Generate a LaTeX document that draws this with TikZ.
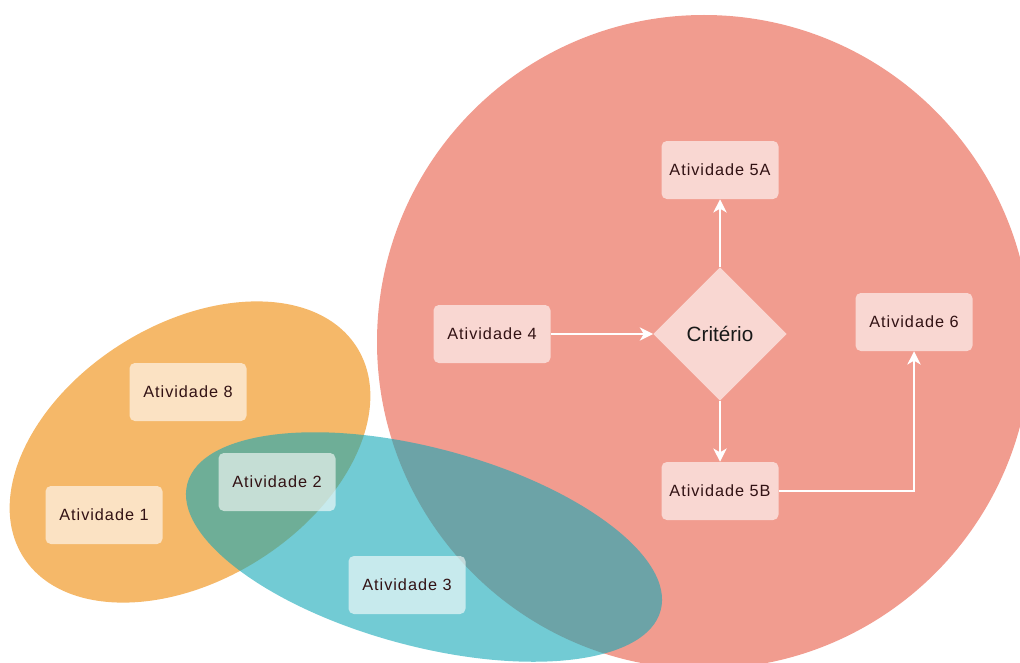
\documentclass[tikz,border=0pt]{standalone}
\usepackage{fontspec}
\setmainfont[LetterSpace=6]{Liberation Sans}
\newfontfamily\critfont{Liberation Sans}
\usetikzlibrary{arrows.meta,shapes.geometric}
\definecolor{redbg}{RGB}{241,156,143}
\definecolor{orangebg}{RGB}{245,184,105}
\definecolor{tealbg}{RGB}{20,168,183}
\definecolor{boxtext}{RGB}{50,18,20}

\begin{document}
\begin{tikzpicture}[x=0.75pt,y=0.75pt,
    box/.style={fill=white,fill opacity=0.6,text opacity=1,rounded corners=4pt,
      minimum width=87.75pt,minimum height=43.5pt,inner sep=0pt,
      text=boxtext,font=\fontsize{12.2}{14}\selectfont},
    crit/.style={diamond,aspect=1,fill=white,fill opacity=0.6,text opacity=1,
      minimum width=100pt,minimum height=100pt,inner sep=0pt,
      text=black!90,font=\critfont\fontsize{15.5}{17}\selectfont},
    flow/.style={draw=white,line width=1.1pt,-{Stealth[length=10pt,width=10pt,inset=3pt]}}]
  \useasboundingbox (0,0) rectangle (1020,662);
  % the three sets
  \fill[redbg] (704,320) circle (327);
  \fill[orangebg,rotate around={32:(190,210)}] (190,210) ellipse (197 and 128);
  \fill[tealbg,opacity=0.6,rotate around={-15:(424,115)}] (424,115) ellipse (245 and 99);
  % activities
  \foreach \x/\y/\n/\t in {188/270/a8/8, 104/147/a1/1, 277/180/a2/2, 407/77/a3/3,
      492/328/a4/4, 720/492/a5a/5A, 720/171/a5b/5B, 914/340/a6/6}
    { \node[box] (\n) at (\x,\y) {Atividade \t}; }
  \node[crit] (crit) at (720,328) {Critério};
  % flow
  \draw[flow] (a4) -- (crit);
  \draw[flow] (crit) -- (a5a);
  \draw[flow] (crit) -- (a5b);
  \draw[flow] (a5b) -| (a6);
\end{tikzpicture}
\end{document}
